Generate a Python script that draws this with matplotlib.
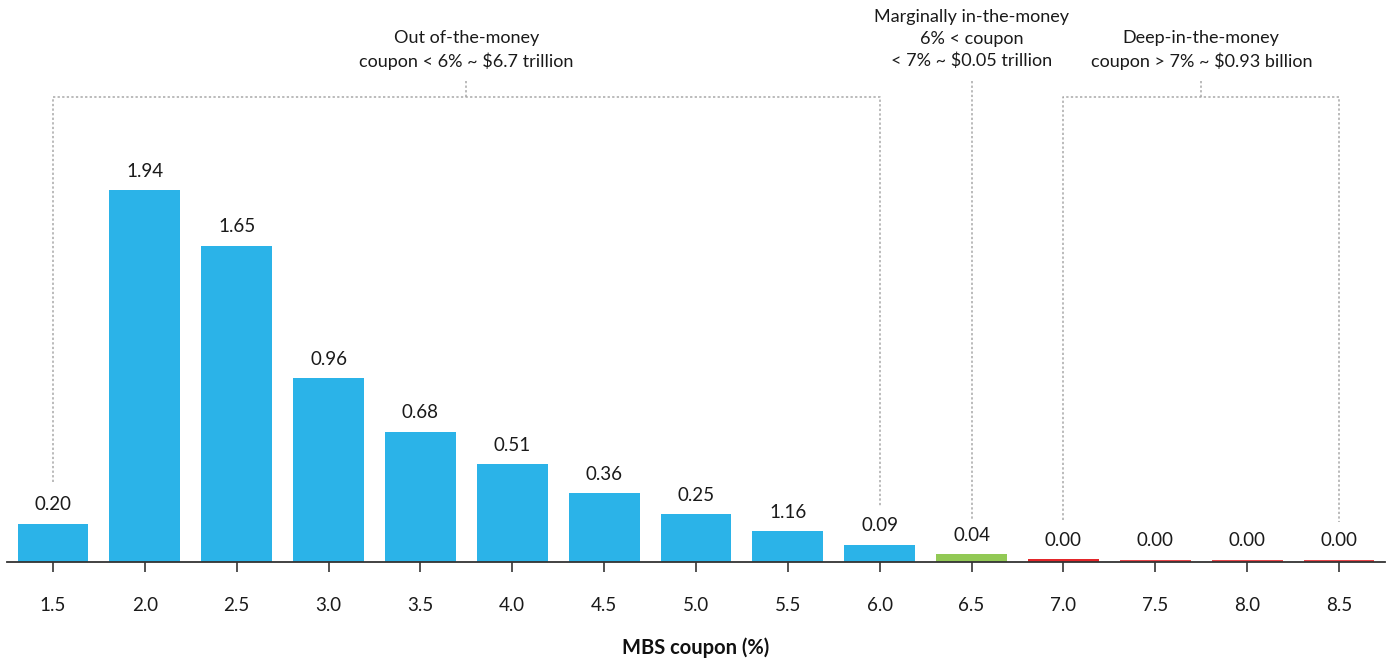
import matplotlib
matplotlib.use("Agg")
import matplotlib.pyplot as plt

coupons = ["1.5", "2.0", "2.5", "3.0", "3.5", "4.0", "4.5", "5.0",
           "5.5", "6.0", "6.5", "7.0", "7.5", "8.0", "8.5"]
balances = [0.20, 1.94, 1.65, 0.96, 0.68, 0.51, 0.36, 0.25,
            0.16, 0.09, 0.04, 0.015, 0.012, 0.012, 0.012]
value_labels = ["0.20", "1.94", "1.65", "0.96", "0.68", "0.51", "0.36", "0.25",
                "1.16", "0.09", "0.04", "0.00", "0.00", "0.00", "0.00"]
groups = ["out"] * 10 + ["marginal"] + ["deep"] * 4

group_colors = {"out": "#2BB3E8", "marginal": "#92C955", "deep": "#E3262A"}
bar_colors = [group_colors[g] for g in groups]
bar_colors[12:] = ["#E8474B"] * 3

out_text = "Out of-the-money\ncoupon < 6% ~ $6.7 trillion"
marg_text = "Marginally in-the-money\n6% < coupon\n< 7% ~ $0.05 trillion"
deep_text = "Deep-in-the-money\ncoupon > 7% ~ $0.93 billion"

FONT = "Lato"
plt.rcParams["font.family"] = [FONT, "DejaVu Sans"]

W, H = 1389, 662
fig = plt.figure(figsize=(W / 100, H / 100), dpi=100)
base_px = 562
ax = fig.add_axes([7 / W, (H - base_px) / H, (1385 - 7) / W, base_px / H])
px_per_unit = 191.8
ax.set_ylim(0, base_px / px_per_unit)
ax.set_xlim(-0.5, len(coupons) - 0.5)

x = list(range(len(coupons)))
ax.bar(x, balances, width=0.77, color=bar_colors, zorder=2)

for xi, v, lab in zip(x, balances, value_labels):
    ax.annotate(lab, (xi, v), xytext=(0, 13.5), textcoords="offset points",
                ha="center", va="center", fontsize=13.5, color="#1a1a1a")

for s in ["top", "right", "left"]:
    ax.spines[s].set_visible(False)
ax.spines["bottom"].set_color("#333333")
ax.spines["bottom"].set_linewidth(1.3)
ax.set_yticks([])
ax.set_xticks(x)
ax.set_xticklabels(coupons, fontsize=13.5, color="#1a1a1a")
ax.tick_params(axis="x", length=7, width=1.3, color="#444444", pad=18)
ax.set_xlabel("MBS coupon (%)", fontsize=14.5, fontweight="bold", labelpad=17, color="#111111")

def py(p):
    return (base_px - p) / px_per_unit

lc = "#a8a8a8"
lkw = dict(color=lc, lw=1.1, linestyle=(0, (1.5, 1.5)), zorder=1, clip_on=False)
# Out-of-the-money bracket
ax.plot([0, 0, 9, 9], [py(482), py(97), py(97), py(507)], **lkw)
ax.plot([4.5, 4.5], [py(97), py(81)], **lkw)
ax.text(4.5, py(50), out_text, ha="center", va="center", fontsize=13,
        linespacing=1.4, color="#1a1a1a")
# Marginal
ax.plot([10, 10], [py(81), py(520)], **lkw)
ax.text(10, py(39), marg_text, ha="center", va="center", fontsize=13,
        linespacing=1.4, color="#1a1a1a")
# Deep
ax.plot([11, 11, 14, 14], [py(520), py(97), py(97), py(522)], **lkw)
ax.plot([12.5, 12.5], [py(97), py(81)], **lkw)
ax.text(12.5, py(50), deep_text, ha="center", va="center", fontsize=13,
        linespacing=1.4, color="#1a1a1a")

fig.savefig("out.png", dpi=100)
